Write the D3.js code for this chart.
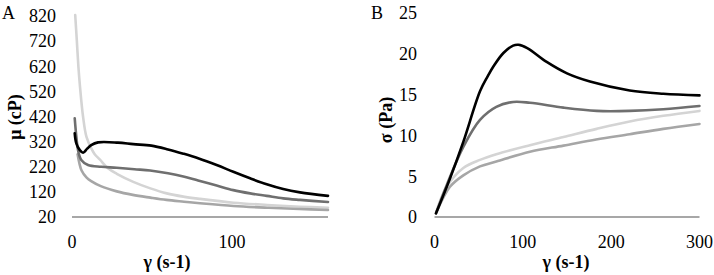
<!DOCTYPE html>
<html><head><meta charset="utf-8">
<script src="https://cdn.jsdelivr.net/npm/d3@7"></script>
<style>body{margin:0;background:#fff}svg{display:block}</style>
</head><body>
<svg id="c" width="714" height="275"></svg>
<script>
// Panel A: viscosity (cP) vs shear rate (s-1)
const aTicksY = [20,120,220,320,420,520,620,720,820];
const aTicksX = [0,100];
const aLightX = [2,3,4,5,6.9,9,12.3,14.2,17.5,22.5,28,38.3,49,59.2,69.6,80,101,122,142.5,160];
const aLightY = [824,724,618,539,420,340,290,270,248,214,192,160,134,114,101,92,77,68,61,57];
const aMedX = [3.5,6,9,12,18,28,38,49,59,70,80,101,122,142,160];
const aMedY = [270,205,178,163,143,122,108,97,88,81,75,64,57,52,48];
const aDarkX = [1.7,2.7,3.75,5.8,10,18.3,27.9,39,48.8,60,69.6,78.8,90.4,100.8,111.3,121.7,132,142.5,160];
const aDarkY = [413,340,287,247,227,220,216,210,205,194,181,165,145,127,114,104,94,88,80];
const aBlackX = [1.7,2.7,4.8,6.9,9.5,12,16.3,28.7,38.3,49.6,60,69.6,78.8,90.4,100.8,111.3,121.7,132,142.5,160];
const aBlackY = [353,313,287,276,292,306,317,316,310,304,289,272,254,227,200,174,150,131,118,104];

// Panel B: shear stress (Pa) vs shear rate (s-1)
const bTicksY = [0,5,10,15,20,25];
const bTicksX = [0,100,200,300];
const bBlackX = [1.7,17.5,32.6,51.5,60,67,78,89,95,105,127,150,176,221,259,300];
const bBlackY = [0.45,4.7,9.2,15.4,17.2,18.5,20.1,21.0,21.1,20.7,19.0,17.6,16.6,15.5,15.1,14.9];
const bDarkX = [1.7,13.8,32.6,51.5,70,89,108,146,183.6,221,259,300];
const bDarkY = [0.45,3.9,8.6,11.9,13.5,14.1,14.0,13.4,13.0,13.0,13.2,13.6];
const bLightX = [2.5,13.8,32.6,51.5,70,108,146,183.6,221,259,300];
const bLightY = [0.8,3.7,6.0,7.0,7.7,8.8,9.8,10.8,11.7,12.4,13.0];
const bMedX = [2.5,17.5,32.6,51.5,70,108,146,183,221,259,300];
const bMedY = [0.65,3.7,5.1,6.2,6.8,8.0,8.75,9.5,10.15,10.8,11.4];

const colors = {black:"#000000", dark:"#6f6f6f", med:"#a6a6a6", light:"#d4d4d4"};
const FONT = "Liberation Serif, DejaVu Serif, serif";
const svg = d3.select("#c");

function panel(cfg){
  const g = svg.append("g");
  const x = d3.scaleLinear().domain(cfg.xDomain).range(cfg.xRange);
  const y = d3.scaleLinear().domain(cfg.yDomain).range(cfg.yRange);
  g.append("line").attr("x1",cfg.xRange[0]).attr("x2",cfg.xRange[1])
   .attr("y1",y(cfg.yDomain[0])).attr("y2",y(cfg.yDomain[0]))
   .attr("stroke","#8a8a8a").attr("stroke-width",1.5);
  g.selectAll(".yt").data(cfg.yTicks).join("text")
   .style("font-family",FONT)
   .attr("x",cfg.yLabelX).attr("y",d=>y(d)).attr("dy","0.35em")
   .attr("text-anchor","end").attr("font-size",18).text(d=>d);
  g.selectAll(".xt").data(cfg.xTicks).join("text")
   .style("font-family",FONT)
   .attr("x",d=>x(d)).attr("y",248)
   .attr("text-anchor","middle").attr("font-size",18).text(d=>d);
  const line = d3.line().x(d=>x(d[0])).y(d=>y(d[1])).curve(d3.curveCatmullRom.alpha(0.5));
  cfg.series.forEach(s=>{
    g.append("path").datum(d3.zip(s.x,s.y)).attr("d",line)
     .attr("fill","none").attr("stroke",s.color).attr("stroke-width",2.6)
     .attr("stroke-linejoin","round").attr("stroke-linecap","round");
  });
  g.append("text").style("font-family",FONT).attr("x",cfg.xTitleX).attr("y",268).attr("text-anchor","middle")
   .attr("font-size",18).attr("font-weight","bold").text("γ (s-1)");
  g.append("text").style("font-family",FONT).attr("transform",`translate(${cfg.yTitleX},${cfg.yTitleY}) rotate(-90)`)
   .attr("text-anchor","middle").attr("dy","0.35em")
   .attr("font-size",18).attr("font-weight","bold").text(cfg.yTitle);
  g.append("text").style("font-family",FONT).attr("x",cfg.letterX).attr("y",19).attr("font-size",18).text(cfg.letter);
}

panel({
  xDomain:[0,160], xRange:[72,328], yDomain:[20,820], yRange:[217,16],
  yTicks:aTicksY, xTicks:aTicksX, yLabelX:56, xTitleX:167,
  yTitle:"μ (cP)", yTitleX:15, yTitleY:117, letter:"A", letterX:2,
  series:[
    {x:aLightX,y:aLightY,color:colors.light},
    {x:aMedX,y:aMedY,color:colors.med},
    {x:aDarkX,y:aDarkY,color:colors.dark},
    {x:aBlackX,y:aBlackY,color:colors.black}
  ]
});
panel({
  xDomain:[0,300], xRange:[434.5,699.5], yDomain:[0,25], yRange:[217,13],
  yTicks:bTicksY, xTicks:bTicksX, yLabelX:417, xTitleX:566,
  yTitle:"σ (Pa)", yTitleX:386, yTitleY:120, letter:"B", letterX:371,
  series:[
    {x:bLightX,y:bLightY,color:colors.light},
    {x:bMedX,y:bMedY,color:colors.med},
    {x:bDarkX,y:bDarkY,color:colors.dark},
    {x:bBlackX,y:bBlackY,color:colors.black}
  ]
});
</script>
</body></html>
